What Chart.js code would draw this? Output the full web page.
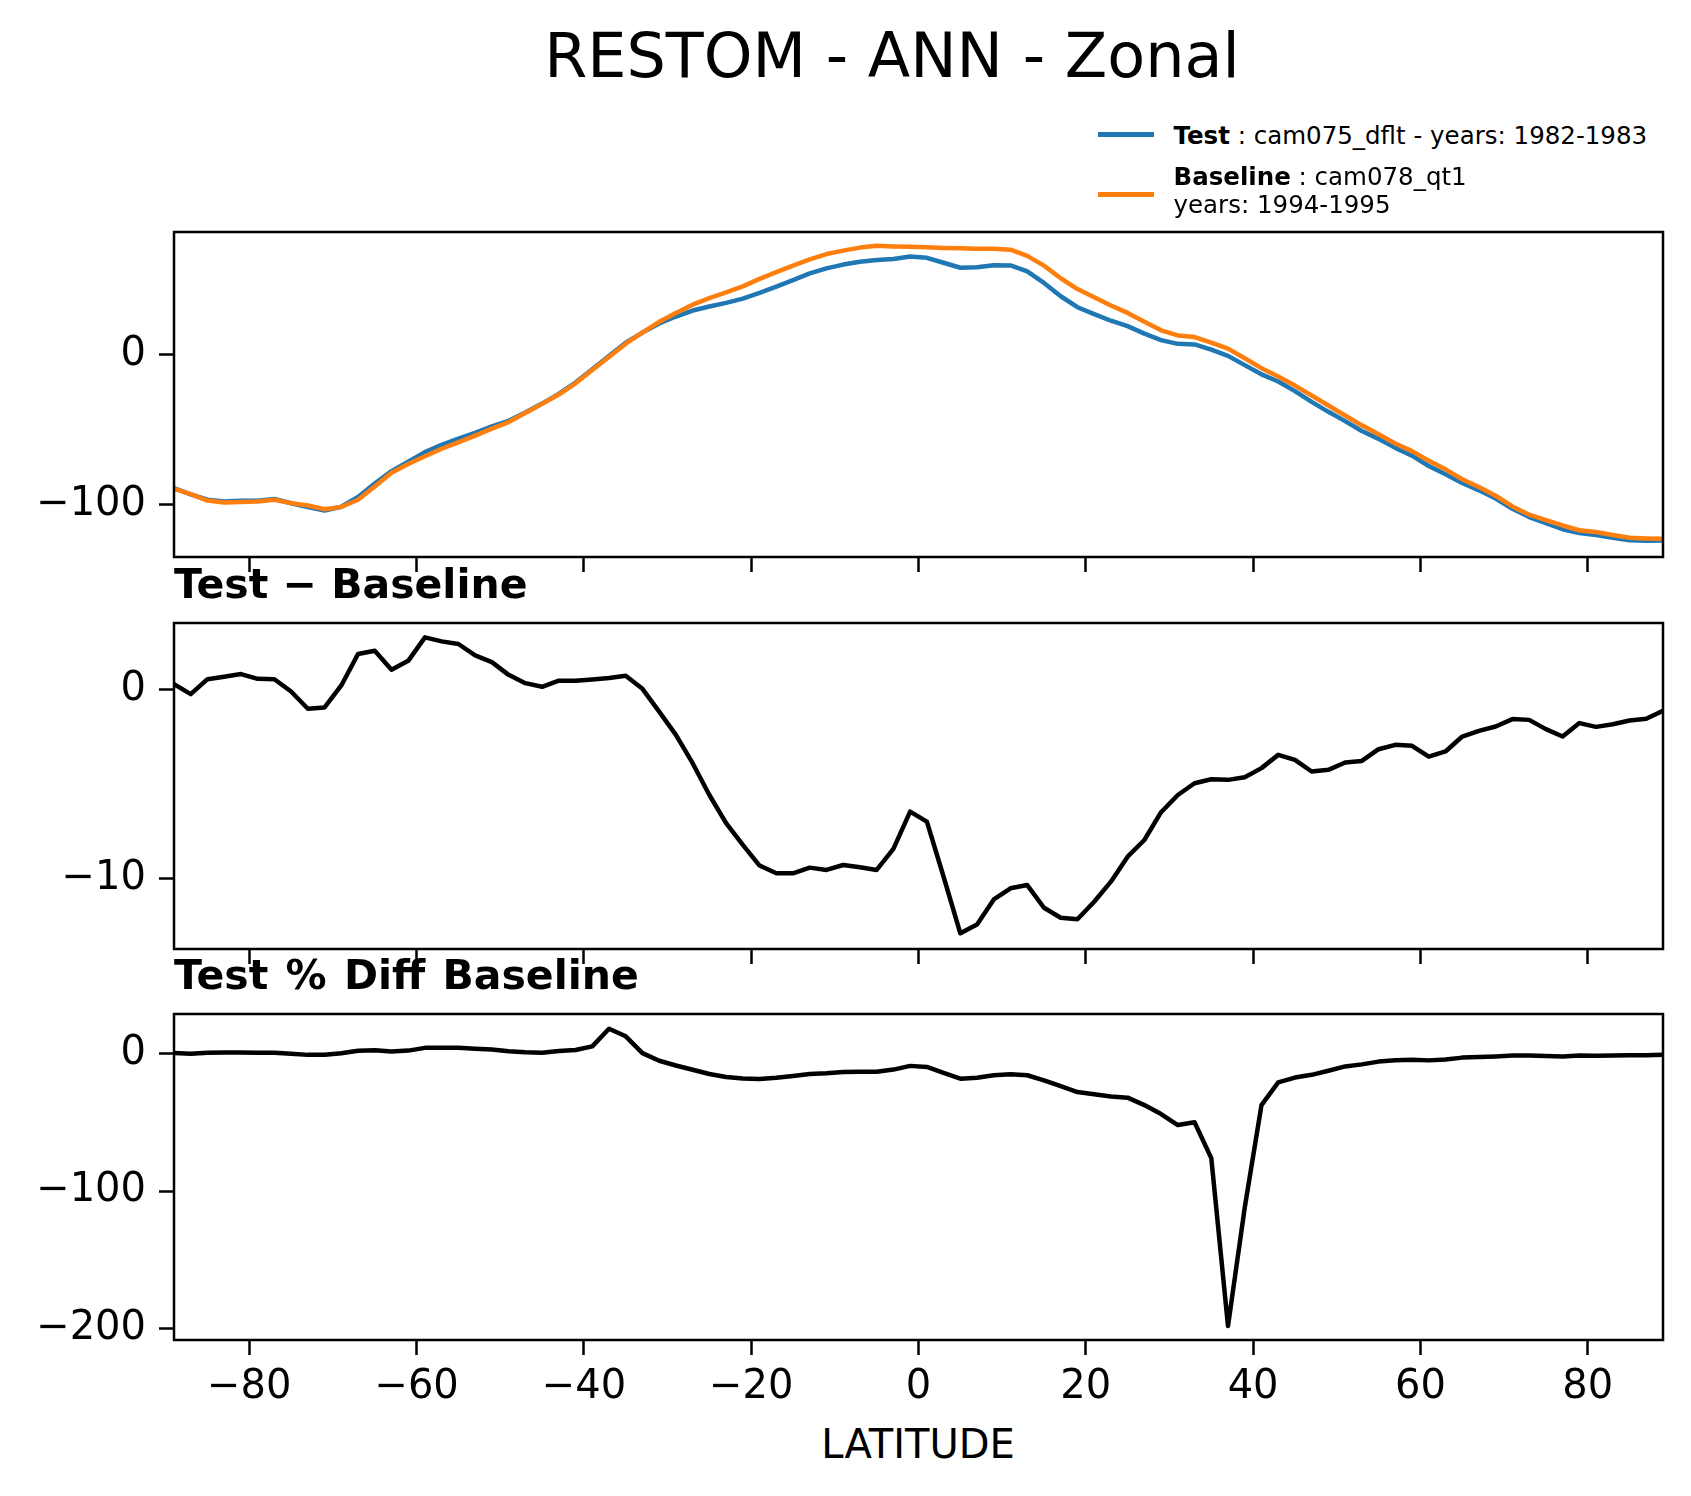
<!DOCTYPE html>
<html>
<head>
<meta charset="utf-8">
<script src="https://cdn.jsdelivr.net/npm/chart.js@4.4.1/dist/chart.umd.min.js"></script>
<style>
    html, body { margin: 0; padding: 0; background: #fff; }
    body { width: 1691px; height: 1496px; position: relative; overflow: hidden; font-family: 'DejaVu Sans', sans-serif; color: #000; }
    canvas { position: absolute; left: 0; }
    .txt { position: absolute; line-height: 1; white-space: nowrap; z-index: 5; }
    .swatch { position: absolute; height: 5px; z-index: 5; }
</style>
</head>
<body>
<div class="txt" id="suptitle" style="left: 392px; width: 1000px; text-align: center; top: 24.5px; font-size: 62px;"></div>
<div class="swatch" id="sw0" style="left: 1098px; width: 56px; top: 131.5px;"></div>
<div class="txt" id="leg0" style="left: 1173.5px; top: 123.6px; font-size: 24.5px;"></div>
<div class="swatch" id="sw1" style="left: 1098px; width: 56px; top: 191.5px;"></div>
<div class="txt" id="leg1a" style="left: 1173.5px; top: 165.3px; font-size: 24.5px;"></div>
<div class="txt" id="leg1b" style="left: 1173.5px; top: 192.6px; font-size: 24.5px;"></div>
<div class="txt" id="title1" style="left: 174px; top: 563.6px; font-size: 41px; font-weight: bold;"></div>
<div class="txt" id="title2" style="left: 174px; top: 955.3px; font-size: 41px; font-weight: bold; word-spacing: 3px;"></div>
<div class="txt" id="xlabel" style="left: 418px; width: 1000px; text-align: center; top: 1423.7px; font-size: 40px;"></div>

<canvas id="topPanel" width="1691" height="405" style="top: 192px; width: 1691px; height: 405px;"></canvas>
<canvas id="midPanel" width="1691" height="406" style="top: 583px; width: 1691px; height: 406px;"></canvas>
<canvas id="botPanel" width="1691" height="446" style="top: 974px; width: 1691px; height: 446px;"></canvas>

<script>
// latitude of each zonal-mean point
const latitudes = [
    -89, -87, -85, -83, -81, -79, -77, -75, -73, -71,
    -69, -67, -65, -63, -61, -59, -57, -55, -53, -51,
    -49, -47, -45, -43, -41, -39, -37, -35, -33, -31,
    -29, -27, -25, -23, -21, -19, -17, -15, -13, -11,
    -9, -7, -5, -3, -1, 1, 3, 5, 7, 9,
    11, 13, 15, 17, 19, 21, 23, 25, 27, 29,
    31, 33, 35, 37, 39, 41, 43, 45, 47, 49,
    51, 53, 55, 57, 59, 61, 63, 65, 67, 69,
    71, 73, 75, 77, 79, 81, 83, 85, 87, 89
];

// RESTOM, test run (cam075_dflt)
const testValues = [
    -89.2, -93.4, -96.9, -98.1, -97.7, -97.6, -96.4, -99.3, -101.8, -104.2,
    -101.6, -95.1, -86.1, -77.9, -71.7, -65.2, -60.4, -56.3, -52.4, -48.1,
    -44.4, -38.9, -32.9, -26.4, -18.9, -10.1, -1.2, 7.7, 14.4, 20.5,
    25.1, 29.1, 31.8, 34.2, 37.0, 40.9, 45.0, 49.3, 53.8, 57.2,
    59.7, 61.6, 62.7, 63.4, 65.1, 64.2, 60.9, 57.6, 57.9, 59.2,
    59.1, 55.2, 47.5, 38.6, 31.3, 26.7, 22.3, 18.7, 13.7, 9.4,
    6.9, 6.5, 3.0, -1.1, -7.3, -13.4, -18.2, -24.6, -31.8, -38.4,
    -44.6, -51.2, -56.4, -62.4, -67.6, -74.5, -80.0, -85.8, -90.7, -96.2,
    -103.0, -108.5, -112.6, -116.6, -119.1, -120.5, -122.3, -123.9, -124.2, -124.1
];

// RESTOM, baseline run (cam078_qt1)
const baselineValues = [
    -89.5, -93.2, -97.5, -98.8, -98.5, -98.2, -97.0, -99.2, -100.8, -103.3,
    -101.8, -97.0, -88.2, -79.0, -73.2, -68.0, -63.0, -58.7, -54.2, -49.6,
    -45.2, -39.2, -33.1, -26.9, -19.4, -10.6, -1.8, 7.0, 14.3, 21.6,
    27.5, 33.0, 37.4, 41.2, 45.2, 50.2, 54.7, 59.0, 63.2, 66.7,
    69.0, 71.0, 72.2, 71.8, 71.5, 71.2, 70.8, 70.5, 70.3, 70.3,
    69.6, 65.5, 59.0, 50.6, 43.4, 37.9, 32.4, 27.5, 21.6, 15.9,
    12.5, 11.4, 7.7, 3.7, -2.7, -9.3, -14.8, -20.9, -27.5, -34.2,
    -40.8, -47.4, -53.3, -59.5, -64.6, -71.0, -76.7, -83.3, -88.5, -94.3,
    -101.4, -106.9, -110.5, -114.1, -117.3, -118.5, -120.5, -122.3, -122.7, -123.0
];

// Test - Baseline
const diffValues = [
    0.30, -0.23, 0.56, 0.69, 0.83, 0.58, 0.56, -0.09, -1.00, -0.93,
    0.23, 1.89, 2.06, 1.06, 1.53, 2.77, 2.56, 2.42, 1.82, 1.46,
    0.79, 0.35, 0.16, 0.48, 0.48, 0.55, 0.62, 0.74, 0.05, -1.15,
    -2.38, -3.88, -5.56, -7.05, -8.20, -9.29, -9.70, -9.70, -9.40, -9.52,
    -9.26, -9.38, -9.52, -8.41, -6.44, -6.97, -9.88, -12.87, -12.40, -11.08,
    -10.49, -10.32, -11.52, -12.05, -12.13, -11.20, -10.14, -8.82, -7.94, -6.47,
    -5.56, -4.94, -4.73, -4.76, -4.62, -4.14, -3.44, -3.70, -4.32, -4.23,
    -3.84, -3.76, -3.14, -2.91, -2.96, -3.53, -3.26, -2.47, -2.17, -1.94,
    -1.55, -1.59, -2.08, -2.47, -1.76, -1.96, -1.82, -1.62, -1.53, -1.11
];

// Test % Diff Baseline
const pctDiffValues = [
    0.3, -0.2, 0.6, 0.7, 0.8, 0.6, 0.6, -0.1, -1.0, -0.9,
    0.2, 2.0, 2.4, 1.4, 2.1, 4.1, 4.1, 4.1, 3.4, 2.9,
    1.7, 0.9, 0.5, 1.8, 2.5, 5.2, 18.0, 12.5, 0.3, -5.3,
    -8.7, -11.8, -14.9, -17.1, -18.1, -18.5, -17.7, -16.4, -14.9, -14.3,
    -13.4, -13.2, -13.2, -11.7, -9.0, -9.8, -14.0, -18.3, -17.6, -15.8,
    -15.1, -15.8, -19.5, -23.8, -28.0, -29.6, -31.3, -32.1, -37.5, -44.0,
    -52.0, -50.0, -76.0, -198.0, -112.0, -37.5, -21.0, -17.5, -15.5, -12.5,
    -9.4, -7.9, -5.9, -4.9, -4.6, -5.0, -4.3, -3.0, -2.5, -2.1,
    -1.5, -1.5, -1.9, -2.2, -1.5, -1.7, -1.5, -1.3, -1.2, -0.9
];

const xTicks = [-80, -60, -40, -20, 0, 20, 40, 60, 80];
const topYTicks = [0, -100];
const midYTicks = [0, -10];
const botYTicks = [0, -100, -200];

const figureTitle = 'RESTOM - ANN - Zonal';
const panelTitles = ['Test \u2212 Baseline', 'Test % Diff Baseline'];
const xAxisLabel = 'LATITUDE';
const seriesNames = ['Test', 'Baseline'];
const seriesInfo = [': cam075_dflt - years: 1982-1983', ': cam078_qt1', 'years: 1994-1995'];
const seriesColors = ['#1f77b4', '#ff7f0e'];

document.getElementById('suptitle').textContent = figureTitle;
document.getElementById('title1').textContent = panelTitles[0];
document.getElementById('title2').textContent = panelTitles[1];
document.getElementById('xlabel').textContent = xAxisLabel;
document.getElementById('leg0').innerHTML = '<b>' + seriesNames[0] + '</b> ' + seriesInfo[0];
document.getElementById('leg1a').innerHTML = '<b>' + seriesNames[1] + '</b> ' + seriesInfo[1];
document.getElementById('leg1b').textContent = seriesInfo[2];
document.getElementById('sw0').style.background = seriesColors[0];
document.getElementById('sw1').style.background = seriesColors[1];

Chart.defaults.font.family = "'DejaVu Sans', sans-serif";
Chart.defaults.color = '#000';

// matplotlib style box around each plot area
const framePlugin = {
    id: 'frame',
    afterDraw(chart) {
        const { ctx, chartArea: a } = chart;
        ctx.save();
        ctx.strokeStyle = '#000';
        ctx.lineWidth = 2.5;
        ctx.strokeRect(a.left, a.top, a.right - a.left, a.bottom - a.top);
        ctx.restore();
    }
};

function toPoints(values) {
    return latitudes.map((lat, i) => ({ x: lat, y: values[i] }));
}

function formatTick(v) {
    return v < 0 ? '\u2212' + Math.abs(v) : String(v);
}

function makePanel(canvasId, datasets, yMin, yMax, yTicks, showXLabels, xAxisHeight) {
    const tickGrid = {
        drawOnChartArea: false,
        drawTicks: true,
        tickLength: 15,
        tickWidth: 2.5,
        color: '#000'
    };
    return new Chart(document.getElementById(canvasId), {
        type: 'line',
        data: { datasets: datasets },
        options: {
            responsive: false,
            animation: false,
            layout: { padding: { top: 40, right: 28, left: 0, bottom: 0 } },
            plugins: {
                legend: { display: false },
                title: { display: false },
                tooltip: { enabled: false }
            },
            elements: {
                point: { radius: 0 },
                line: { tension: 0, borderJoinStyle: 'round', borderCapStyle: 'butt' }
            },
            scales: {
                x: {
                    type: 'linear',
                    min: -89,
                    max: 89,
                    afterBuildTicks: s => { s.ticks = xTicks.map(v => ({ value: v })); },
                    afterFit: s => { s.height = xAxisHeight; },
                    ticks: {
                        display: showXLabels,
                        font: { size: 40 },
                        padding: 9,
                        maxRotation: 0,
                        callback: formatTick
                    },
                    grid: tickGrid,
                    border: { display: false }
                },
                y: {
                    type: 'linear',
                    min: yMin,
                    max: yMax,
                    afterBuildTicks: s => { s.ticks = yTicks.map(v => ({ value: v })); },
                    afterFit: s => { s.width = 174; },
                    ticks: {
                        font: { size: 40 },
                        padding: 13,
                        callback: formatTick
                    },
                    grid: tickGrid,
                    border: { display: false }
                }
            }
        },
        plugins: [framePlugin]
    });
}

makePanel('topPanel', [
    {
        label: seriesNames[0],
        data: toPoints(testValues),
        borderColor: seriesColors[0],
        borderWidth: 4.5,
        order: 1
    },
    {
        label: seriesNames[1],
        data: toPoints(baselineValues),
        borderColor: seriesColors[1],
        borderWidth: 4.5,
        order: 0
    }
], -135.1, 81.4, topYTicks, false, 40);

makePanel('midPanel', [
    {
        label: panelTitles[0],
        data: toPoints(diffValues),
        borderColor: '#000',
        borderWidth: 4.5
    }
], -13.7, 3.53, midYTicks, false, 40);

makePanel('botPanel', [
    {
        label: panelTitles[1],
        data: toPoints(pctDiffValues),
        borderColor: '#000',
        borderWidth: 4.5
    }
], -208.2, 28.7, botYTicks, true, 80);
</script>
</body>
</html>
